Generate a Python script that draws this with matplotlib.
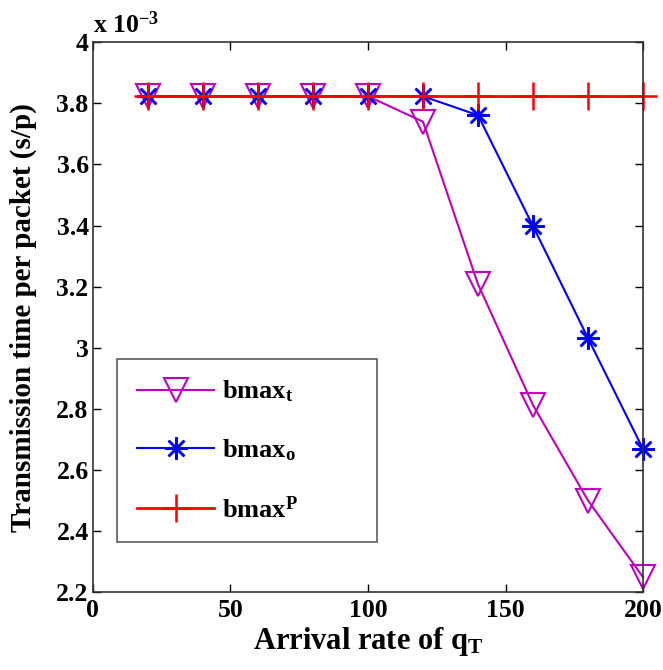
import matplotlib
matplotlib.use("Agg")
import matplotlib.pyplot as plt
from matplotlib.ticker import FixedLocator, FuncFormatter

x = [20, 40, 60, 80, 100, 120, 140, 160, 180, 200]
bmax_t = [3.823, 3.823, 3.823, 3.823, 3.823, 3.74, 3.208, 2.812, 2.50, 2.249]
bmax_o = [3.823, 3.823, 3.823, 3.823, 3.823, 3.823, 3.761, 3.398, 3.031, 2.668]
bmax_p = [3.823] * 10
xticks = [0, 50, 100, 150, 200]
yticks = [2.2, 2.4, 2.6, 2.8, 3.0, 3.2, 3.4, 3.6, 3.8, 4.0]

plt.rcParams['font.family'] = ['Liberation Serif', 'DejaVu Serif']
plt.rcParams['font.weight'] = 'bold'
plt.rcParams['mathtext.fontset'] = 'custom'
plt.rcParams['mathtext.rm'] = 'Liberation Serif:bold'
plt.rcParams['mathtext.bf'] = 'Liberation Serif:bold'
plt.rcParams['mathtext.it'] = 'Liberation Serif:bold'
plt.rcParams['mathtext.default'] = 'bf'

fig = plt.figure(figsize=(6.63, 6.70), dpi=100)
ax = fig.add_axes([0.140, 0.116, 0.830, 0.821])

ax.plot(x, bmax_t, color='#c000c0', marker='v', markersize=17, fillstyle='none',
        markeredgewidth=1.5, linewidth=1.5, label=r'bmax$_\mathbf{t}$', clip_on=False)
ax.plot(x, bmax_o, color='#0000ff', marker=(8, 2, 0), markersize=16,
        markeredgewidth=1.8, linewidth=1.5, label=r'bmax$_\mathbf{o}$', clip_on=False)
ax.plot(x, bmax_p, color='#ff0000', marker='+', markersize=20,
        markeredgewidth=1.8, linewidth=2.0, label=r'bmax$^\mathbf{P}$', clip_on=False)

ax.set_xlim(0, 200)
ax.set_ylim(2.2, 4.0)
ax.xaxis.set_major_locator(FixedLocator(xticks))
ax.yaxis.set_major_locator(FixedLocator(yticks))
ax.yaxis.set_major_formatter(FuncFormatter(lambda v, p: f"{v:g}"))
ax.tick_params(direction='in', length=6, width=1, top=True, right=True,
               labelsize=18.5, colors='black', pad=3)
ax.tick_params(axis='x', pad=5)
for lab in ax.get_xticklabels() + ax.get_yticklabels():
    lab.set_fontweight('bold')
for s in ax.spines.values():
    s.set_color('#333333')
    s.set_linewidth(1.2)

ax.set_xlabel(r'Arrival rate of q$_\mathbf{T}$', fontsize=22, fontweight='bold', labelpad=2)
ax.set_ylabel('Transmission time per packet (s/p)', fontsize=21, fontweight='bold', labelpad=14)
ax.text(0.0, 1.008, r'x 10$^{-3}$', transform=ax.transAxes, fontsize=18.5,
        fontweight='bold', ha='left', va='bottom')

leg = ax.legend(loc='lower left', bbox_to_anchor=(0.0436, 0.091, 0.473, 0.334),
                mode='expand', borderaxespad=0, fontsize=19,
                frameon=True, fancybox=False, edgecolor='#333333',
                handlelength=2.95, labelspacing=1.25, borderpad=0.75,
                handletextpad=0.3)
leg.get_frame().set_linewidth(1.2)

fig.savefig('out.png', dpi=100)
